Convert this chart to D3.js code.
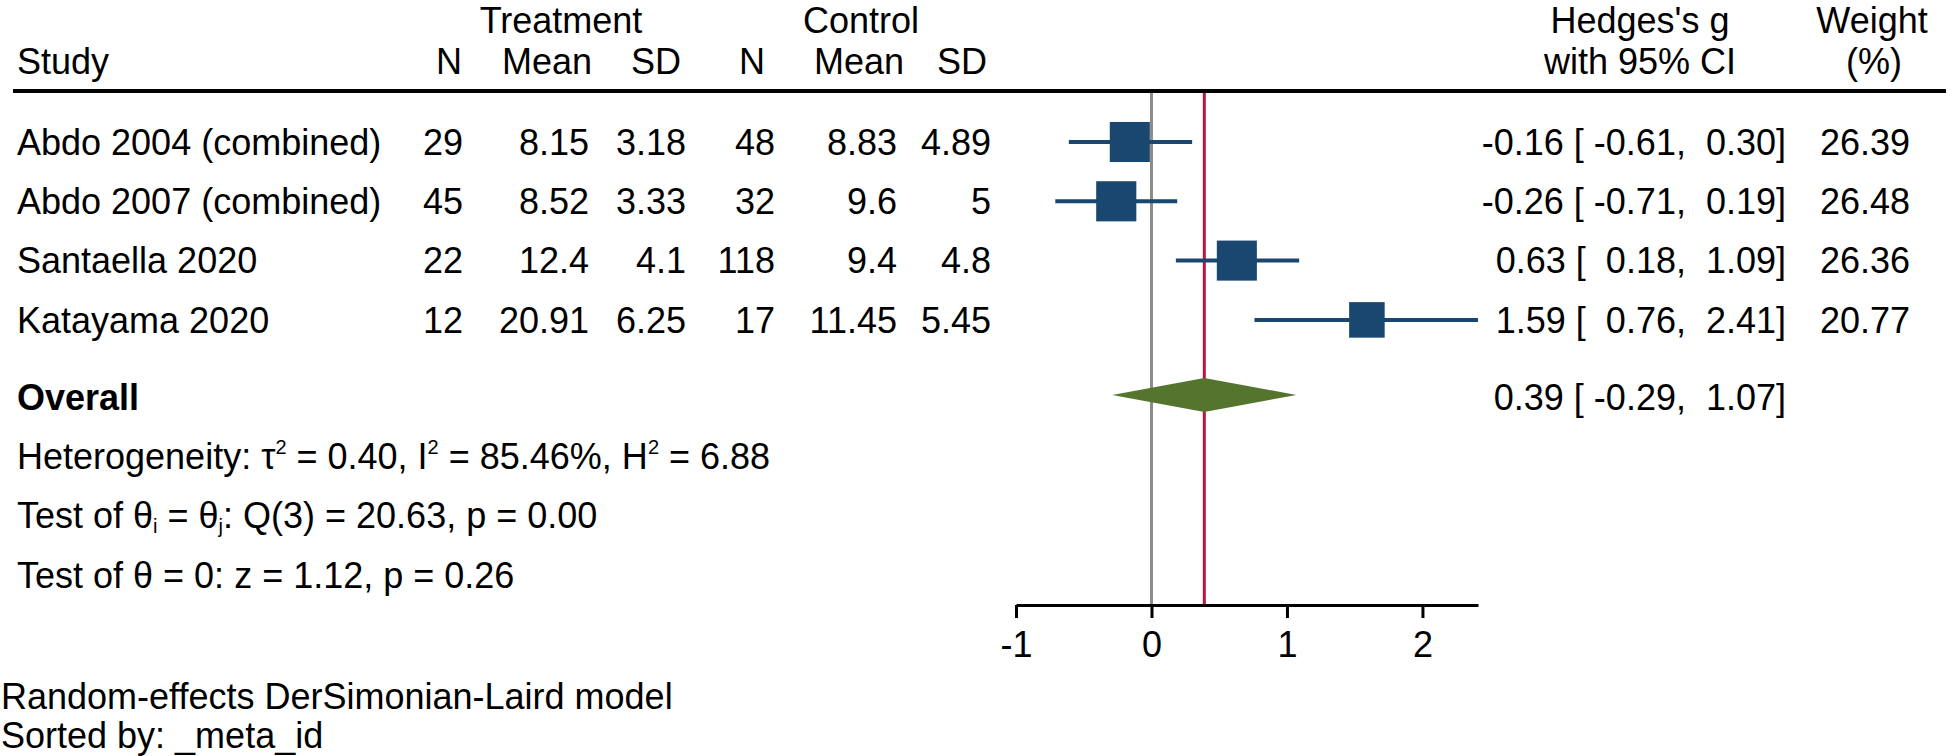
<!DOCTYPE html>
<html>
<head>
<meta charset="utf-8">
<script src="https://cdn.jsdelivr.net/npm/d3@7"></script>
<style>
  html, body { margin: 0; padding: 0; background: #fff; }
  svg text { font-family: "Liberation Sans", Arial, sans-serif; font-size: 36px; fill: #000; white-space: pre; }
</style>
</head>
<body>
<svg id="chart" width="1952" height="756"></svg>
<script>
// ---- data ----
const studies   = ["Abdo 2004 (combined)", "Abdo 2007 (combined)", "Santaella 2020", "Katayama 2020"];
const trtN      = [29, 45, 22, 12];
const trtMean   = [8.15, 8.52, 12.4, 20.91];
const trtSD     = [3.18, 3.33, 4.1, 6.25];
const ctlN      = [48, 32, 118, 17];
const ctlMean   = [8.83, 9.6, 9.4, 11.45];
const ctlSD     = [4.89, 5, 4.8, 5.45];
const effect    = [-0.16, -0.26, 0.63, 1.59];
const ciLow     = [-0.61, -0.71, 0.18, 0.76];
const ciHigh    = [0.30, 0.19, 1.09, 2.41];
const weights   = [26.39, 26.48, 26.36, 20.77];
const overallEffect = 0.39;
const overallLow    = -0.29;
const overallHigh   = 1.07;
const xTicks    = [-1, 0, 1, 2];
const colHeaders = ["N", "Mean", "SD", "N", "Mean", "SD"];

// ---- layout ----
const svg = d3.select("#chart");
const x = d3.scaleLinear().domain([-1, d3.max(ciHigh)]).range([1016, 1478]);
const y = d3.scaleLinear().domain([0, 1]).range([142, 201.3]);
const capHalf = 12.8;
const headerLineY = 91;
const axisY = 605;
const navy = "#1a476f", green = "#55752f";
const hy = s => s.replace(/\u2212/g, "-");

// header
svg.append("text").attr("x", 561).attr("y", 33).attr("text-anchor", "middle").text("Treatment");
svg.append("text").attr("x", 861).attr("y", 33).attr("text-anchor", "middle").text("Control");
svg.append("text").attr("x", 17).attr("y", 74).text("Study");
const headerRight = [462, 592, 681, 765, 904, 987];
colHeaders.forEach((h, i) => {
  svg.append("text").attr("x", headerRight[i]).attr("y", 74).attr("text-anchor", "end").text(h);
});
svg.append("text").attr("x", 1640).attr("y", 33).attr("text-anchor", "middle").text("Hedges's g");
svg.append("text").attr("x", 1640).attr("y", 74).attr("text-anchor", "middle").text("with 95% CI");
svg.append("text").attr("x", 1872).attr("y", 33).attr("text-anchor", "middle").text("Weight");
svg.append("text").attr("x", 1874).attr("y", 74).attr("text-anchor", "middle").text("(%)");

svg.append("line").attr("x1", 13).attr("x2", 1946).attr("y1", headerLineY).attr("y2", headerLineY)
  .attr("stroke", "#000").attr("stroke-width", 4);

// vertical reference lines
svg.append("line").attr("x1", x(0)).attr("x2", x(0)).attr("y1", headerLineY + 2).attr("y2", axisY)
  .attr("stroke", "#8c8c8c").attr("stroke-width", 3);
svg.append("line").attr("x1", x(overallEffect)).attr("x2", x(overallEffect)).attr("y1", headerLineY + 2).attr("y2", axisY)
  .attr("stroke", "#c0143c").attr("stroke-width", 3);

// table rows
const cols = [
  {vals: trtN, right: 463}, {vals: trtMean, right: 589}, {vals: trtSD, right: 686},
  {vals: ctlN, right: 775}, {vals: ctlMean, right: 897}, {vals: ctlSD, right: 991}
];
const fmt = v => hy(d3.format(".2f")(v));
const pad = (s, n) => s.padStart(n, " ");
const ciString = (g, l, h) => pad(fmt(g), 5) + " [" + pad(fmt(l), 6) + ", " + pad(fmt(h), 5) + "]";

studies.forEach((s, i) => {
  const cy = y(i);
  svg.append("text").attr("x", 17).attr("y", cy + capHalf).text(s);
  cols.forEach(c => {
    svg.append("text").attr("x", c.right).attr("y", cy + capHalf).attr("text-anchor", "end").text(String(c.vals[i]));
  });
  svg.append("text").attr("x", 1786).attr("y", cy + capHalf).attr("text-anchor", "end")
    .attr("xml:space", "preserve").text(ciString(effect[i], ciLow[i], ciHigh[i]));
  svg.append("text").attr("x", 1910).attr("y", cy + capHalf).attr("text-anchor", "end").text(fmt(weights[i]));
});

// CI lines and squares
const side = w => 7.8 * Math.sqrt(w);
svg.selectAll("line.ci").data(studies).enter().append("line").attr("class", "ci")
  .attr("x1", (d, i) => x(ciLow[i])).attr("x2", (d, i) => x(ciHigh[i]))
  .attr("y1", (d, i) => y(i)).attr("y2", (d, i) => y(i))
  .attr("stroke", navy).attr("stroke-width", 4);
svg.selectAll("rect.box").data(studies).enter().append("rect").attr("class", "box")
  .attr("x", (d, i) => x(effect[i]) - side(weights[i]) / 2)
  .attr("y", (d, i) => y(i) - side(weights[i]) / 2)
  .attr("width", (d, i) => side(weights[i])).attr("height", (d, i) => side(weights[i]))
  .attr("fill", navy);

// overall
const oy = y(4.3);
svg.append("text").attr("x", 17).attr("y", oy + capHalf).attr("font-weight", "bold").text("Overall");
svg.append("path")
  .attr("d", `M${x(overallLow)},${oy - 2} L${x(overallEffect)},${oy - 19} L${x(overallHigh)},${oy - 2} L${x(overallEffect)},${oy + 15} Z`)
  .attr("fill", green);
svg.append("text").attr("x", 1786).attr("y", oy + capHalf).attr("text-anchor", "end")
  .attr("xml:space", "preserve").text(ciString(overallEffect, overallLow, overallHigh));

// stats lines
const t1 = svg.append("text").attr("x", 17).attr("y", y(5.3) + capHalf);
t1.append("tspan").text("Heterogeneity: τ");
t1.append("tspan").attr("font-size", "20px").attr("dy", -15).text("2");
t1.append("tspan").attr("dy", 15).text(" = 0.40, I");
t1.append("tspan").attr("font-size", "20px").attr("dy", -15).text("2");
t1.append("tspan").attr("dy", 15).text(" = 85.46%, H");
t1.append("tspan").attr("font-size", "20px").attr("dy", -15).text("2");
t1.append("tspan").attr("dy", 15).text(" = 6.88");

const t2 = svg.append("text").attr("x", 17).attr("y", y(6.3) + capHalf);
t2.append("tspan").text("Test of θ");
t2.append("tspan").attr("font-size", "20px").attr("dy", 5).text("i");
t2.append("tspan").attr("dy", -5).text(" = θ");
t2.append("tspan").attr("font-size", "20px").attr("dy", 5).text("j");
t2.append("tspan").attr("dy", -5).text(": Q(3) = 20.63, p = 0.00");

svg.append("text").attr("x", 17).attr("y", y(7.3) + capHalf).text("Test of θ = 0: z = 1.12, p = 0.26");

// axis
const axis = d3.axisBottom(x).tickValues(xTicks).tickSize(13).tickSizeOuter(0).tickPadding(13)
  .tickFormat(d => hy(d3.format("d")(d)));
const ax = svg.append("g").attr("transform", `translate(0,${axisY})`).call(axis);
ax.select(".domain").attr("stroke", "#000").attr("stroke-width", 3);
ax.selectAll(".tick line").attr("stroke", "#000").attr("stroke-width", 3);
ax.selectAll(".tick text").attr("font-size", "36px").attr("font-family", "Liberation Sans, Arial, sans-serif").attr("fill", "#000");

// footer
svg.append("text").attr("x", 1).attr("y", 709).text("Random-effects DerSimonian-Laird model");
svg.append("text").attr("x", 1).attr("y", 748).text("Sorted by: _meta_id");
</script>
</body>
</html>
